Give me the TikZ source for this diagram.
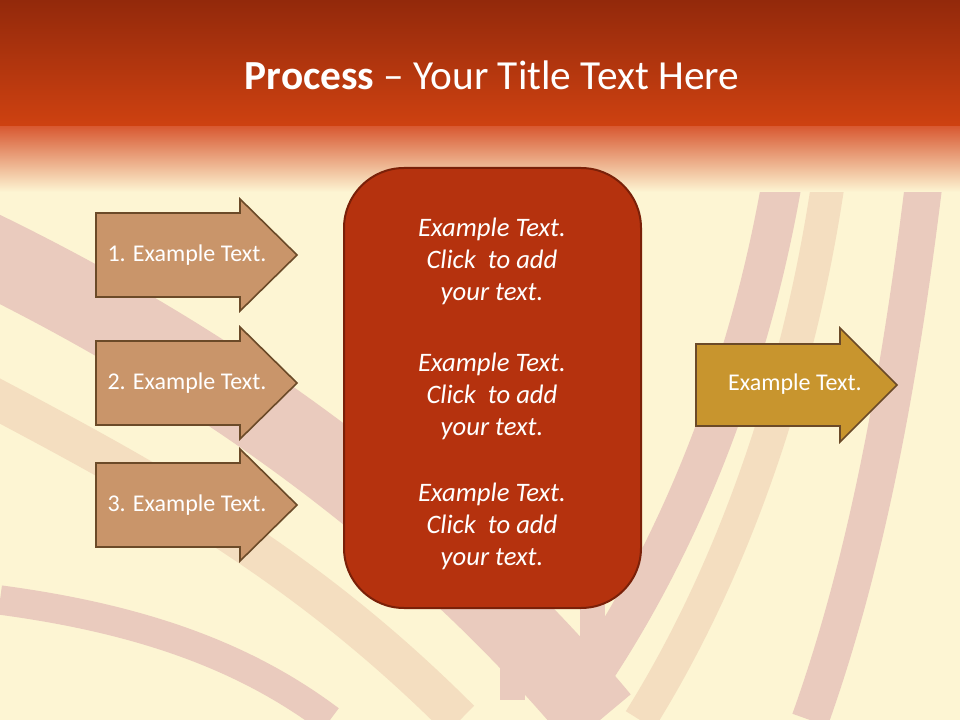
\documentclass[tikz,border=0pt]{standalone}
\usepackage{fontspec}
\setmainfont{Carlito}
\begin{document}
\begin{tikzpicture}[x=0.75pt,y=-0.75pt,
  larrow/.style={draw=arrowline,line width=1.2pt,fill=arrowfill},
  rarrow/.style={draw=arrowline,line width=1.2pt,fill=arrowgold},
  atext/.style={text=white,font=\fontsize{18}{20}\selectfont},
  ctext/.style={text=white,font=\itshape\fontsize{20}{24}\selectfont,align=center},
  band/.style={draw=bandc,line cap=butt}]
\definecolor{cream}{HTML}{FDF5D3}
\definecolor{bandc}{HTML}{EACBBE}
\definecolor{bandd}{HTML}{F4DEC0}
\definecolor{arrowfill}{HTML}{C9956A}
\definecolor{arrowgold}{HTML}{C8952E}
\definecolor{arrowline}{HTML}{6B4A28}
\definecolor{boxfill}{HTML}{B5320E}
\definecolor{boxline}{HTML}{7A2008}
\definecolor{topc}{HTML}{93290B}
\definecolor{midc}{HTML}{CF4211}
\useasboundingbox (0,0) rectangle (960,720);
\fill[cream] (0,0) rectangle (960,720);
% background bands
\begin{scope}
\clip (0,0) rectangle (960,720);
\draw[band,line width=60pt] (-40,240) .. controls (150,330) and (400,480) .. (600,720);
\draw[draw=bandd,line width=30pt] (-40,380) .. controls (150,480) and (300,560) .. (460,720);
\draw[band,line width=22pt] (0,600) .. controls (150,620) and (250,660) .. (330,720);
\draw[band,line width=30pt] (790,130) .. controls (760,350) and (680,560) .. (560,720);
\draw[draw=bandd,line width=25pt] (835,130) .. controls (810,350) and (740,560) .. (640,720);
\draw[band,line width=28pt] (930,130) .. controls (900,400) and (860,580) .. (810,720);
\fill[bandc] (500,600) rectangle (525,700);
\fill[bandc] (580,600) rectangle (605,690);
\end{scope}
% title band
\shade[top color=topc,bottom color=midc] (0,0) rectangle (960,128);
\shade[top color=midc!80!pink,bottom color=cream] (0,127) rectangle (960,192);
\node[text=white,font=\fontsize{31}{34}\selectfont] (title) at (492,75) {\textbf{Process} -- Your Title Text Here};
% left arrows
\foreach \n/\c/\t in {a/255/1. Example Text.,b/383/2. Example Text.,c/505/3. Example Text.}{
  \draw[larrow] (96,\c-42) -- (240,\c-42) -- (240,\c-56) -- (297,\c) -- (240,\c+56) -- (240,\c+42) -- (96,\c+42) -- cycle;
  \node[atext] (\n) at (187,\c) {\t};
}
% right arrow
\draw[rarrow] (696,344) -- (840,344) -- (840,328) -- (897,385) -- (840,442) -- (840,426) -- (696,426) -- cycle;
\node[atext] (r) at (795,384) {Example Text.};
% center box
\draw[fill=boxfill,draw=boxline,line width=1.5pt,rounded corners=45pt] (344,168) rectangle (641,608);
\node[ctext] (t1) at (492,261) {Example Text.\\Click\ \ to add\\your text.};
\node[ctext] (t2) at (492,396) {Example Text.\\Click\ \ to add\\your text.};
\node[ctext] (t3) at (492,526) {Example Text.\\Click\ \ to add\\your text.};
\end{tikzpicture}
\end{document}
